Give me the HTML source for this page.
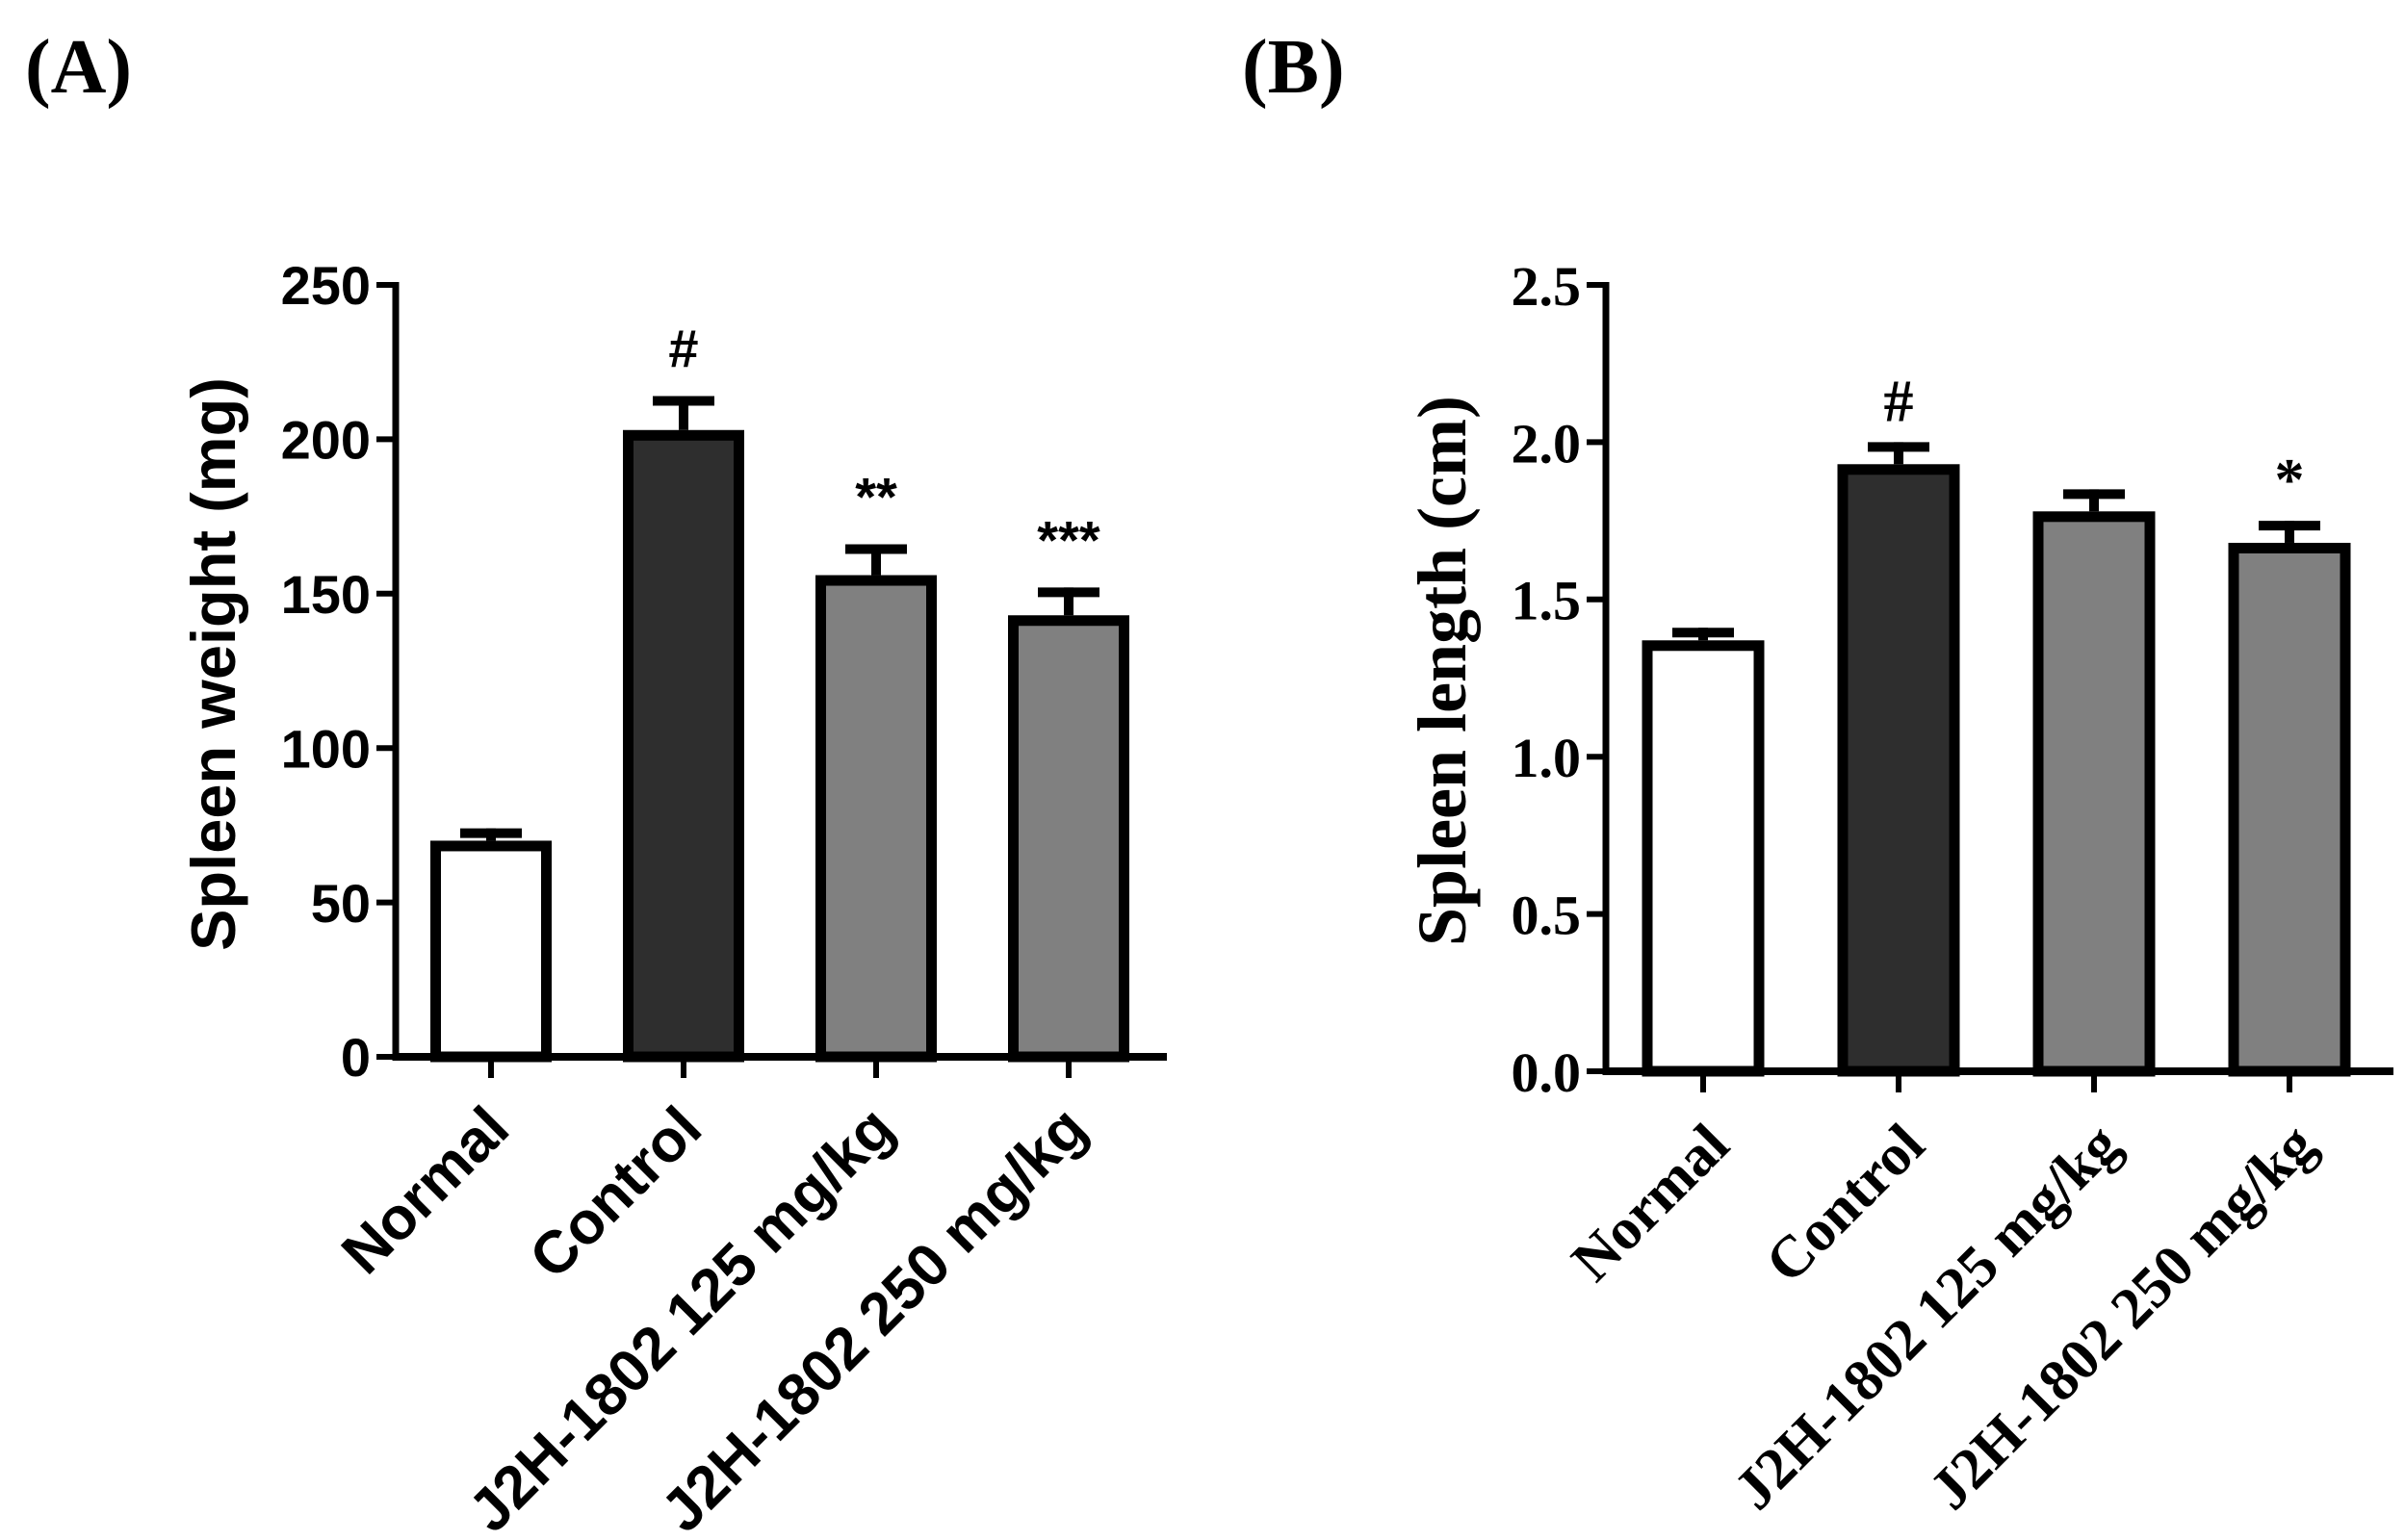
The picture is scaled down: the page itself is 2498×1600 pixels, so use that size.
<!DOCTYPE html>
<html><head><meta charset="utf-8"><style>
html,body{margin:0;padding:0;background:#fff;}
svg{display:block;}
</style></head><body>
<svg id="fig" width="2498" height="1600" viewBox="0 0 2498 1600" xmlns="http://www.w3.org/2000/svg">
<text x="26" y="96" font-family="Liberation Serif, serif" font-weight="bold" font-size="80">(A)</text>
<text x="1290" y="96" font-family="Liberation Serif, serif" font-weight="bold" font-size="80">(B)</text>
</svg>
<script>
const categories = ["Normal", "Control", "J2H-1802 125 mg/kg", "J2H-1802 250 mg/kg"];
const weightValues = [70, 203, 156, 143];
const weightErrors = [4, 11, 10, 9];
const weightTicks = [0, 50, 100, 150, 200, 250];
const weightTickLabels = ["0", "50", "100", "150", "200", "250"];
const weightAnnotations = ["", "#", "**", "***"];
const lengthValues = [1.37, 1.93, 1.78, 1.68];
const lengthErrors = [0.04, 0.07, 0.07, 0.07];
const lengthTicks = [0, 0.5, 1.0, 1.5, 2.0, 2.5];
const lengthTickLabels = ["0.0", "0.5", "1.0", "1.5", "2.0", "2.5"];
const lengthAnnotations = ["", "#", "", "*"];
const fills = ["#ffffff", "#2e2e2e", "#808080", "#808080"];

const NS = "http://www.w3.org/2000/svg";
const svg = document.getElementById("fig");
function mk(tag, attrs, parent) {
  const e = document.createElementNS(NS, tag);
  for (const k in attrs) e.setAttribute(k, attrs[k]);
  (parent || svg).appendChild(e);
  return e;
}

function drawChart(o) {
  const g = mk("g", {});
  
  
  const yScale = v => o.y0 - (v - o.ymin) / (o.ymax - o.ymin) * (o.y0 - o.yTop);
  const xCenter = i => o.firstCx + i * o.step;
  o.values.forEach((v, i) => {
    const cx = xCenter(i), top = yScale(v), sw = 11;
    const eTop = yScale(v + o.errors[i]);
    const el = mk("line", {x1: cx, x2: cx, y1: top, y2: eTop, stroke: "#000", "stroke-width": 10}, g);
    
    
    const cap = mk("line", {x1: cx - 32, x2: cx + 32, y1: eTop + 5, y2: eTop + 5, stroke: "#000", "stroke-width": 10}, g);
    
    
    const r = mk("rect", {x: cx - o.bw / 2 + sw / 2, y: top + sw / 2, width: o.bw - sw, height: o.y0 - top - sw / 2, fill: fills[i], stroke: "#000", "stroke-width": sw}, g);
    
    
    if (o.annotations[i]) {
      const t = mk("text", {x: cx, y: eTop - o.annOff, "text-anchor": "middle", "font-family": o.font, "font-weight": "bold", "font-size": o.annSize}, g);
      t.textContent = o.annotations[i];
      
      
    }
    const tk = mk("line", {x1: cx, x2: cx, y1: o.y0, y2: o.y0 + 22, stroke: "#000", "stroke-width": 6}, g);
    
    
    const lx = cx + o.lblDx, ly = o.y0 + o.lblDy;
    const lt = mk("text", {x: lx, y: ly, "text-anchor": "end", "font-family": o.font, "font-weight": "bold", "font-size": o.lblSize, transform: "rotate(-45 " + lx + " " + ly + ")"}, g);
    lt.textContent = categories[i];
    
    
  });
  const ya = mk("line", {x1: o.axisX, x2: o.axisX, y1: o.yTop - 3, y2: o.y0 + 4, stroke: "#000", "stroke-width": 7}, g);
  
  
  const xa = mk("line", {x1: o.axisX - 3, x2: o.axisEnd, y1: o.y0, y2: o.y0, stroke: "#000", "stroke-width": 8}, g);
  
  
  o.ticks.forEach((t, i) => {
    const y = yScale(t);
    const l = mk("line", {x1: o.axisX - 20, x2: o.axisX, y1: y, y2: y, stroke: "#000", "stroke-width": 6}, g);
    
    
    const tx = mk("text", {x: o.axisX - 26, y: y + o.tickSize * 0.36, "text-anchor": "end", "font-family": o.font, "font-weight": "bold", "font-size": o.tickSize}, g);
    tx.textContent = o.tickLabels[i];
    
    
  });
  const tt = mk("text", {x: o.titleX, y: o.titleY, "text-anchor": "middle", "font-family": o.font, "font-weight": "bold", "font-size": o.titleSize, transform: "rotate(-90 " + o.titleX + " " + o.titleY + ")"}, g);
  tt.textContent = o.title;
  
  
}

drawChart({name: "spleen-weight-chart", values: weightValues, errors: weightErrors, ticks: weightTicks, tickLabels: weightTickLabels, annotations: weightAnnotations,
  ymin: 0, ymax: 250, y0: 1098, yTop: 296, axisX: 411, axisEnd: 1212, firstCx: 510, step: 200, bw: 126,
  font: "Liberation Sans, sans-serif", tickSize: 56, titleSize: 65, title: "Spleen weight (mg)", titleX: 244, titleY: 690,
  annSize: 56, annOff: 30, lblSize: 62, lblDx: 22, lblDy: 78});
drawChart({name: "spleen-length-chart", values: lengthValues, errors: lengthErrors, ticks: lengthTicks, tickLabels: lengthTickLabels, annotations: lengthAnnotations,
  ymin: 0, ymax: 2.5, y0: 1113, yTop: 296, axisX: 1668, axisEnd: 2486, firstCx: 1769, step: 203, bw: 127,
  font: "Liberation Serif, serif", tickSize: 58, titleSize: 72, title: "Spleen length (cm)", titleX: 1522, titleY: 697,
  annSize: 62, annOff: 22, lblSize: 61, lblDx: 30, lblDy: 80});
</script>
</body></html>
